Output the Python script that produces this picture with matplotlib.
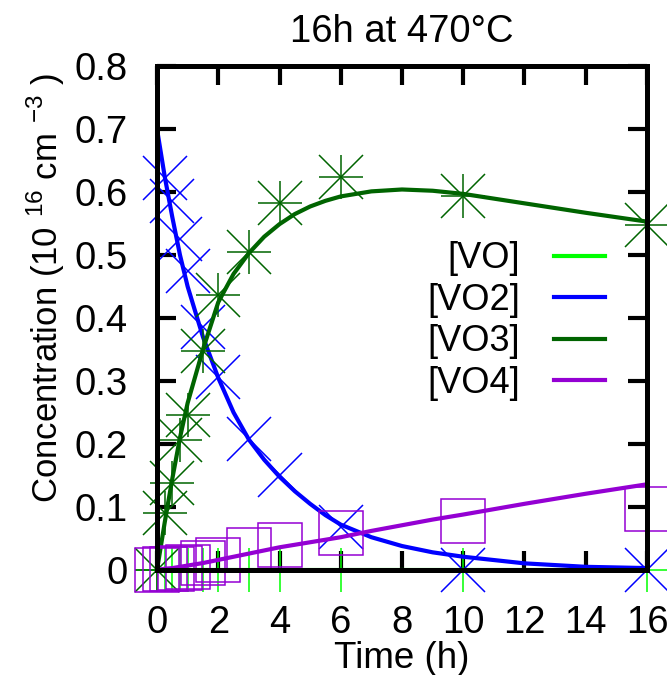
import matplotlib
matplotlib.use('Agg')
from matplotlib import pyplot as plt
from matplotlib.lines import Line2D

plt.rcParams['font.family'] = ['Liberation Sans', 'DejaVu Sans']
plt.rcParams['mathtext.fontset'] = 'custom'
plt.rcParams['mathtext.rm'] = 'Liberation Sans'

# measured points
t_meas = [0, 0.25, 0.5, 0.75, 1, 1.5, 2, 3, 4, 6, 10, 16]
vo_meas = [0, 0, 0, 0, 0, 0, 0, 0, 0, 0, 0, 0]
t_vo2 = [0.25, 0.5, 0.75, 1, 1.5, 2, 3, 4, 6, 10, 16]
vo2_meas = [0.623, 0.585, 0.525, 0.475, 0.385, 0.306, 0.208, 0.15, 0.069, 0.0, 0.0]
vo3_meas = [0.0, 0.091, 0.138, 0.207, 0.246, 0.347, 0.437, 0.505, 0.582, 0.624, 0.593, 0.548]
vo4_meas = [0.0, 0.002, 0.002, 0.003, 0.004, 0.011, 0.016, 0.032, 0.040, 0.059, 0.077, 0.097]

# model curves
t_fit = [0, 0.25, 0.5, 0.75, 1, 1.5, 2, 2.5, 3, 3.5, 4, 4.5, 5, 5.5, 6, 7, 8, 9, 10, 12, 14, 16]
vo_fit = [0] * len(t_fit)
vo2_fit = [0.70, 0.625, 0.56, 0.50, 0.45, 0.37, 0.305, 0.25, 0.207, 0.175, 0.148, 0.125,
           0.105, 0.087, 0.072, 0.052, 0.038, 0.028, 0.021, 0.0105, 0.005, 0.003]
vo3_fit = [0.0, 0.075, 0.145, 0.21, 0.265, 0.35, 0.425, 0.47, 0.503, 0.529, 0.549, 0.565,
           0.577, 0.586, 0.593, 0.601, 0.604, 0.602, 0.597, 0.582, 0.567, 0.553]
vo4_fit = [0.0, 0.002, 0.003, 0.005, 0.007, 0.011, 0.016, 0.021, 0.026, 0.031, 0.036, 0.040,
           0.044, 0.048, 0.052, 0.062, 0.071, 0.080, 0.088, 0.105, 0.121, 0.136]

labels = ['[VO]', '[VO2]', '[VO3]', '[VO4]']
colors = ['#00ff00', '#0000ff', '#006400', '#9400d3']

fig = plt.figure(figsize=(6.67, 6.75), dpi=100)
ax = fig.add_axes([0.2354, 0.1556, 0.7346, 0.7466])

ms = 32
mew = 1.1
ax.plot(t_meas, vo_meas, ls='none', marker='+', ms=ms, mew=mew, color=colors[0], clip_on=False)
ax.plot(t_fit, vo_fit, color=colors[0], lw=3)
ax.plot(t_vo2, vo2_meas, ls='none', marker='x', ms=ms, mew=mew, color=colors[1], clip_on=False)
ax.plot(t_fit, vo2_fit, color=colors[1], lw=3)
ax.plot(t_meas, vo3_meas, ls='none', marker='+', ms=ms, mew=mew, color=colors[2], clip_on=False)
ax.plot(t_meas, vo3_meas, ls='none', marker='x', ms=ms, mew=mew, color=colors[2], clip_on=False)
ax.plot(t_fit, vo3_fit, color=colors[2], lw=3)
ax.plot(t_meas, vo4_meas, ls='none', marker='s', ms=ms, mew=mew, mfc='none', mec=colors[3], clip_on=False)
ax.plot(t_fit, vo4_fit, color=colors[3], lw=3)

ax.set_xlim(0, 16)
ax.set_ylim(0, 0.8)
ax.set_xticks(range(0, 17, 2))
ax.set_yticks([0, 0.1, 0.2, 0.3, 0.4, 0.5, 0.6, 0.7, 0.8])
ax.set_yticklabels(['0', '0.1', '0.2', '0.3', '0.4', '0.5', '0.6', '0.7', '0.8'])

for s in ax.spines.values():
    s.set_linewidth(3.6)
    s.set_zorder(10)
ax.tick_params(direction='in', length=14, width=3, labelsize=27.5, top=True, right=True)
ax.tick_params(axis='y', pad=21)
ax.tick_params(axis='x', pad=25)

ax.set_title('16h at 470°C', fontsize=27.5, pad=17)
ax.set_xlabel('Time (h)', fontsize=26.5, labelpad=0.5)
ax.set_ylabel(r'Concentration (10 $^{\mathregular{16}}$ cm $^{\mathregular{-3}}$ )', fontsize=25)
ax.yaxis.set_label_coords(-0.184, 0.56)

handles = [Line2D([], [], color=c, lw=3) for c in colors]
ax.legend(handles, labels, loc='center right', bbox_to_anchor=(0.914, 0.494), frameon=False,
          markerfirst=False, fontsize=26, handlelength=1.4, handletextpad=0.95,
          labelspacing=0.18, borderpad=0, borderaxespad=0)

plt.savefig('out.png', dpi=100)
